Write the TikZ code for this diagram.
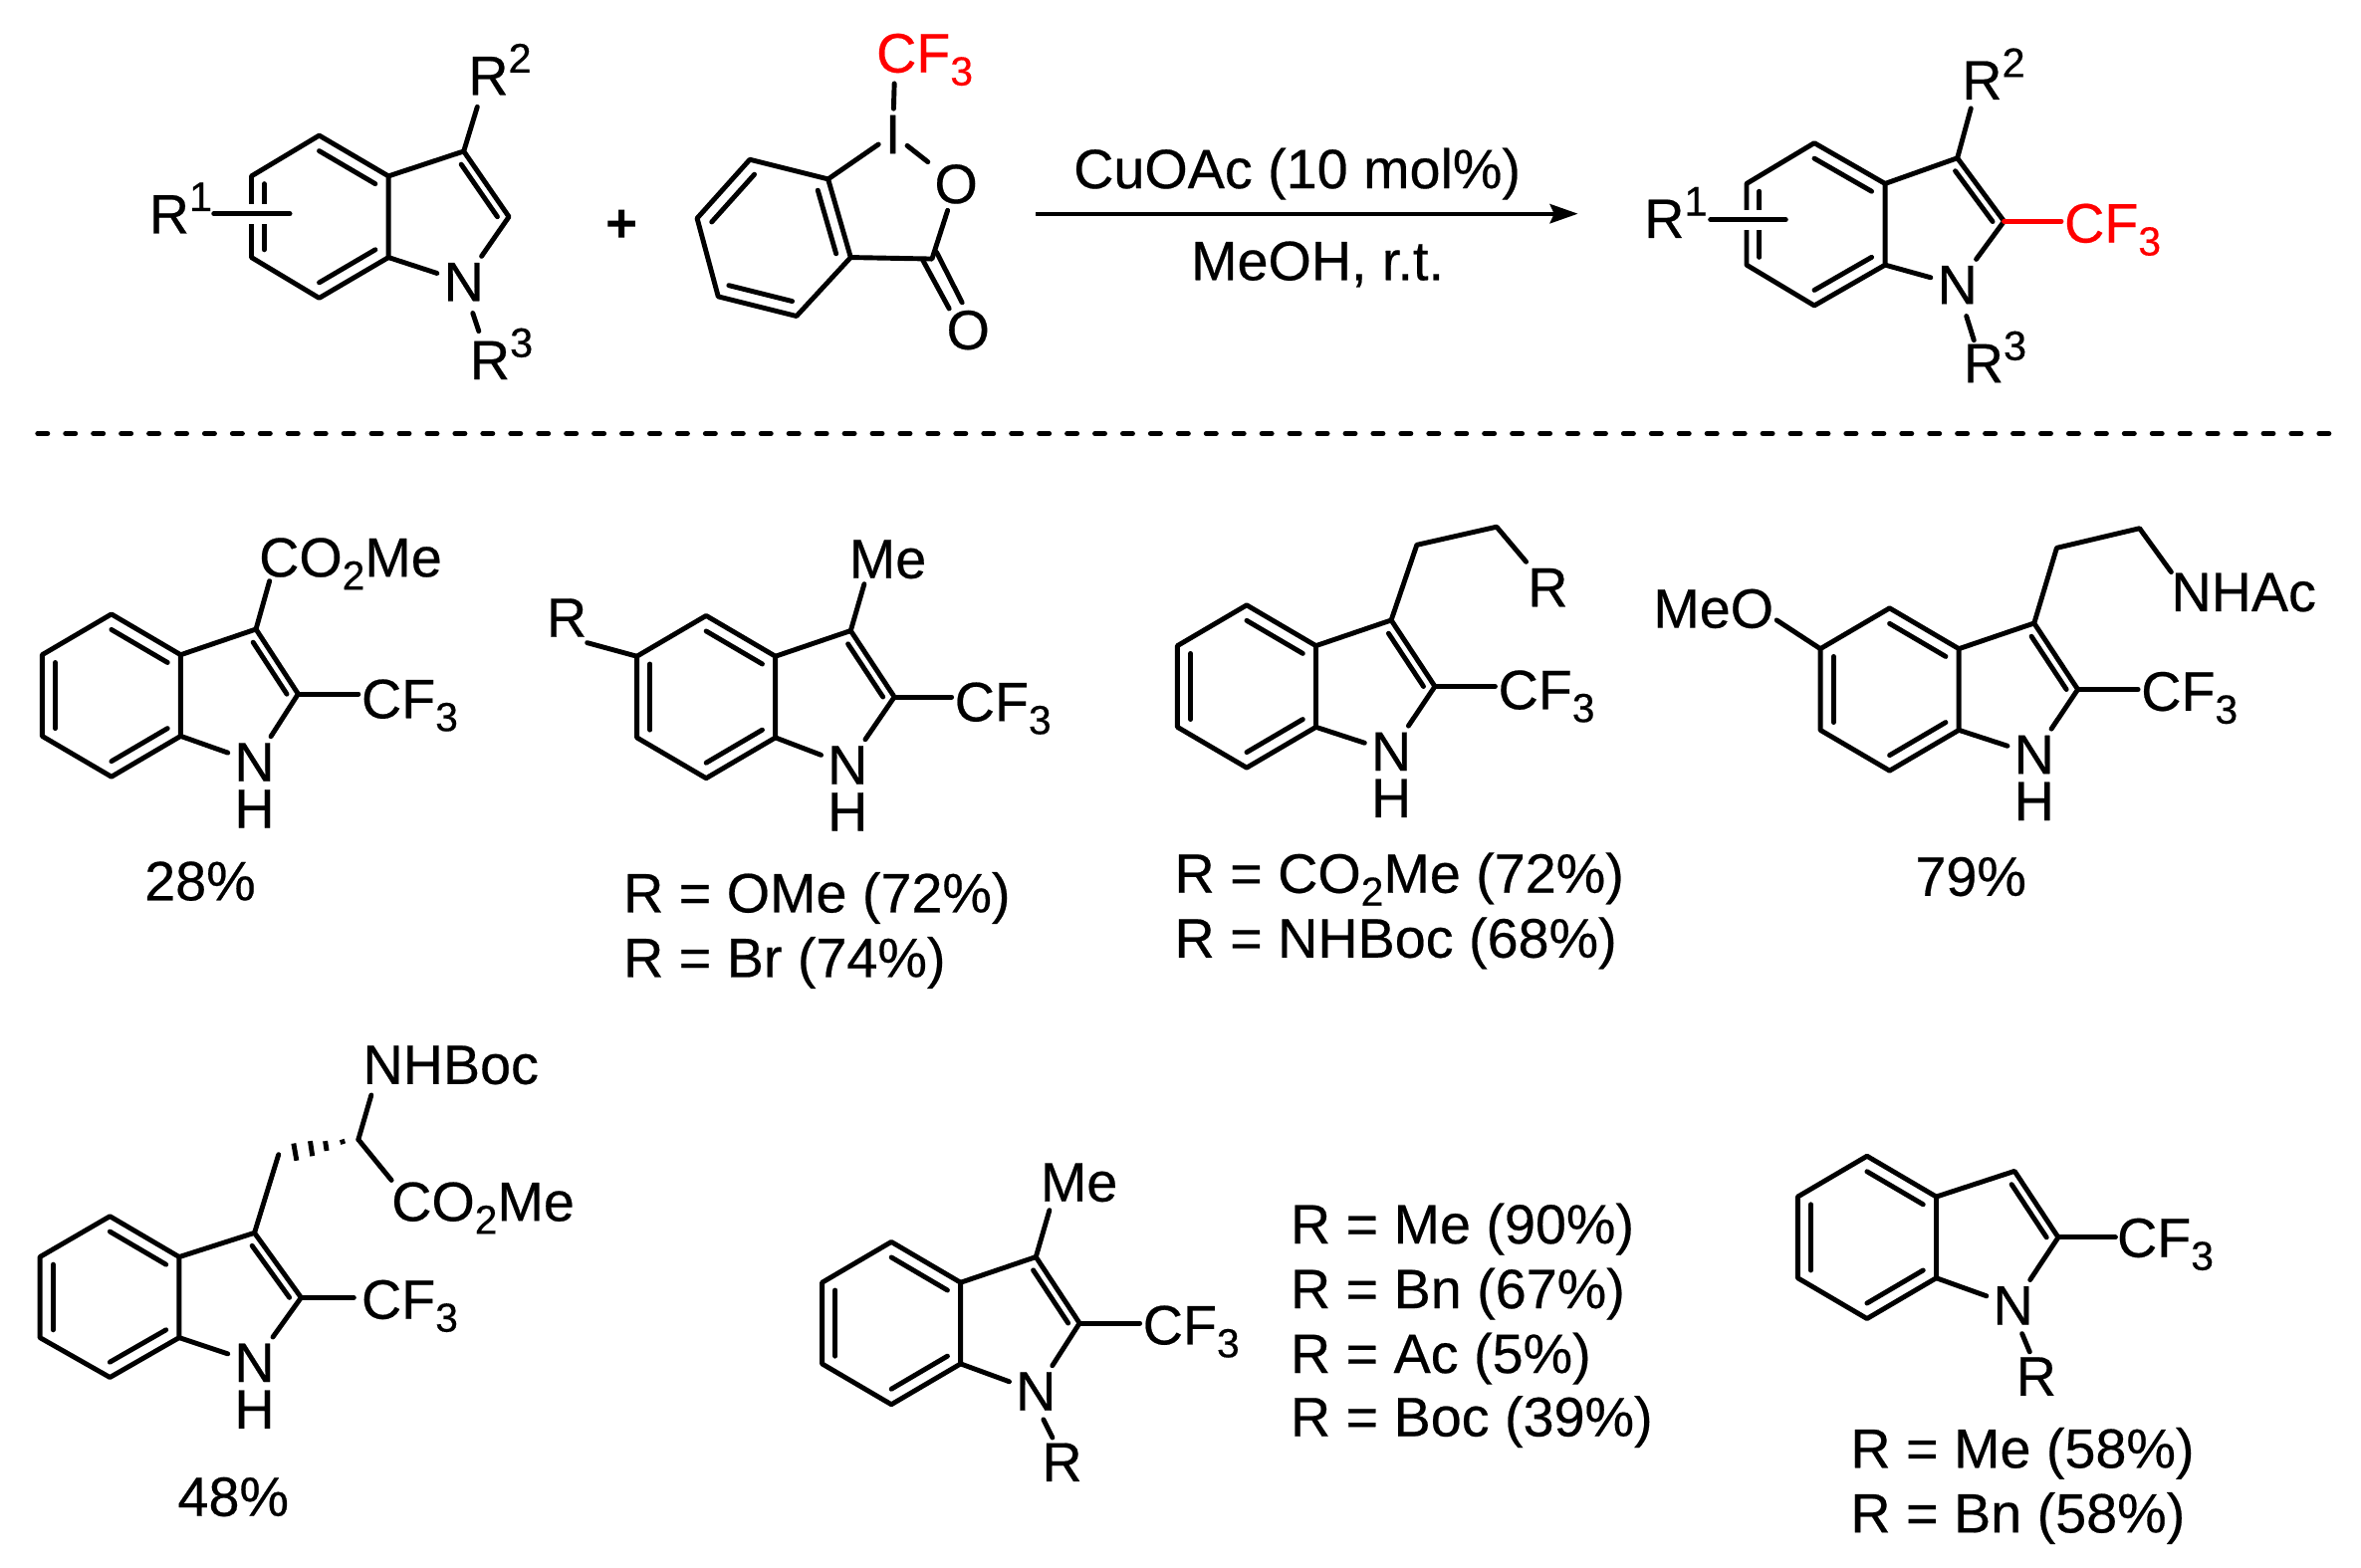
\documentclass[tikz,border=0pt]{standalone}
\usepackage{fontspec}
\setmainfont{Liberation Sans}
\newfontfamily\heavy{Liberation Sans}[FakeBold=0.4]
\usetikzlibrary{calc,arrows.meta}
\newcommand{\sbs}[1]{\raisebox{-3.7pt}{\fontsize{11.6}{11.6}\selectfont #1}}
\newcommand{\sps}[1]{\raisebox{6.4pt}{\fontsize{11.8}{11.8}\selectfont #1}}
\tikzset{
  bond/.style={line width=1.4pt,line cap=round,line join=round},
  redbond/.style={bond,draw=red},
  atom/.style={inner sep=1.7pt,yshift=0.3pt,font=\heavy\fontsize{15.85}{18}\selectfont},
  lab/.style={inner sep=0pt,anchor=base west,xshift=-0.6pt,yshift=0.4pt,font=\heavy\fontsize{15.85}{18}\selectfont},
  redlab/.style={lab,text=red},
  halo/.style={draw=white,line width=5.7pt}
}
% arguments: C4, C5, C6, C7, C7a, C3a, C3, C2, name of the N node
\newcommand{\indolecore}[9]{
  \coordinate (c4) at (#1); \coordinate (c5) at (#2); \coordinate (c6) at (#3);
  \coordinate (c7) at (#4); \coordinate (c7a) at (#5); \coordinate (c3a) at (#6);
  \coordinate (c3) at (#7); \coordinate (c2) at (#8);
  \coordinate (bc) at ($(c4)!.5!(c7)$);
  \coordinate (fm) at ($(c3a)!.5!(c7a)$);
  \coordinate (fc) at ($(fm)!.52!(c2)$);
  \draw[bond] (c4) -- (c5) -- (c6) -- (c7) -- (c7a) -- (c3a) -- cycle;
  \draw[bond] (c3a) -- (c3) -- (c2) -- (#9);
  \draw[bond] (c7a) -- (#9);
  \draw[bond] ($(c4)!.19!(bc)$) -- ($(c3a)!.19!(bc)$);
  \draw[bond] ($(c7)!.19!(bc)$) -- ($(c7a)!.19!(bc)$);
  \draw[bond] ($(c3)!.2!(fc)$) -- ($(c2)!.2!(fc)$);
  \coordinate (i5) at ($(c5)!.19!(bc)$); \coordinate (i6) at ($(c6)!.19!(bc)$);
  \draw[bond] (i5) -- (i6);
}
\newcommand{\bondto}[2]{\coordinate (tmpend) at (#2); \draw[bond] (#1) -- (tmpend);}
\begin{document}
\begin{tikzpicture}[x=0.01512cm,y=-0.01512cm]
\useasboundingbox (0,0) rectangle (1568.1,1041);
\fill[white] (0,0) rectangle (1568.1,1041);

% ---- starting indole
\node[atom] (nS) at (308,188) {N};
\indolecore{212,90}{167,117}{167,171}{212,198}{258,171}{258,117}{308,100.5}{338,144}{nS}
\coordinate (b1) at (142,142); \coordinate (b2) at (192.5,142);
\draw[halo,shorten <=6pt] (b1) -- (b2); \draw[bond] (b1) -- (b2);
\node[lab] (r2S) at (312,64) {R\sps{2}};
\bondto{c3}{317,71}
\node[lab] (r3S) at (313,253) {R\sps{3}};
\coordinate (a1) at (314,208); \coordinate (a2) at (318,220); \draw[bond] (a1) -- (a2);
\node[lab] (r1S) at (100,156) {R\sps{1}};

\node[atom,font=\fontsize{15.7}{18}\selectfont\bfseries] (plus) at (413,151) {+};

% ---- reagent
\node[atom] (iod) at (593,90) {I};
\node[atom] (oring) at (635,123) {O};
\node[atom] (ocarb) at (643,220) {O};
\node[redlab] (cfR) at (583,49) {CF\sbs{3}};
\coordinate (q1) at (498,106); \coordinate (q2) at (550,119); \coordinate (q3) at (565,171);
\coordinate (q4) at (529,210); \coordinate (q5) at (477,197); \coordinate (q6) at (463,145);
\coordinate (qc) at (514,158); \coordinate (qco) at (619,172);
\draw[bond] (q1) -- (q2) -- (q3) -- (q4) -- (q5) -- (q6) -- cycle;
\draw[bond] ($(q1)!.19!(qc)$) -- ($(q6)!.19!(qc)$);
\draw[bond] ($(q2)!.19!(qc)$) -- ($(q3)!.19!(qc)$);
\draw[bond] ($(q4)!.19!(qc)$) -- ($(q5)!.19!(qc)$);
\draw[bond] (q2) -- (iod);
\draw[bond] (iod) -- (oring);
\draw[bond] (oring) -- (qco) -- (q3);
\coordinate (d1) at (613,173); \coordinate (d2) at (630.4,205);
\coordinate (d3) at (622,167.5); \coordinate (d4) at (639,201);
\draw[bond] (d1) -- (d2); \draw[bond] (d3) -- (d4);
\coordinate (e1) at (594,55.5); \draw[bond] (e1) -- (iod);

% ---- arrow
\coordinate (ar1) at (688,142); \coordinate (ar2) at (1048,142);
\draw[line width=1.1pt,-{Stealth[length=8pt,width=5.5pt,inset=1.2pt]}] (ar1) -- (ar2);
\node[lab] (cond1) at (714,126) {CuOAc (10 mol\%)};
\node[lab] (cond2) at (792,187) {MeOH, r.t.};

% ---- product
\node[atom] (nP) at (1300,190) {N};
\indolecore{1205,95}{1160,122}{1160,176}{1205,203}{1252,176}{1252,122}{1300,105}{1331,147}{nP}
\coordinate (b1) at (1136,146); \coordinate (b2) at (1186,146);
\draw[halo,shorten <=6pt] (b1) -- (b2); \draw[bond] (b1) -- (b2);
\node[lab] (r2P) at (1304,67) {R\sps{2}};
\bondto{c3}{1309,72}
\node[lab] (r3P) at (1305,255) {R\sps{3}};
\coordinate (a1) at (1306,210); \coordinate (a2) at (1311,226); \draw[bond] (a1) -- (a2);
\node[lab] (r1P) at (1093,159) {R\sps{1}};
\node[redlab] (cfP) at (1372,162) {CF\sbs{3}};
\coordinate (e2) at (1369,147); \draw[redbond] (c2) -- (e2);

% ---- dashed separator
\coordinate (s1) at (25,288); \coordinate (s2) at (1552,288);
\draw[line width=1.4pt,line cap=round,dash pattern=on 2.85pt off 5.1pt] (s1) -- (s2);

% ---- A
\node[atom] (nA) at (169,507) {N};
\node[atom] (hA) at (169,538) {H};
\indolecore{74,408}{28,435}{28,489}{74,516}{120,489}{120,435}{170,418}{198,461}{nA}
\node[lab] (coA) at (173,384) {CO\sbs{2}Me};
\bondto{c3}{179,386}
\node[lab] (cfA) at (241,478) {CF\sbs{3}};
\bondto{c2}{238,461}
\node[lab] (yA) at (97,599) {28\%};

% ---- B
\node[atom] (nB) at (563,509) {N};
\node[atom] (hB) at (563,540) {H};
\indolecore{469,409}{423,436}{423,490}{469,517}{515,490}{515,436}{565,419}{594,463}{nB}
\node[lab] (meB) at (565,385) {Me};
\bondto{c3}{574,388}
\node[lab] (cfB) at (635,480) {CF\sbs{3}};
\bondto{c2}{632,463}
\node[lab] (rB) at (364,424) {R};
\bondto{c5}{390,427}
\node[lab] (tB1) at (415,607) {R = OMe (72\%)};
\node[lab] (tB2) at (415,650) {R = Br (74\%)};

% ---- C
\node[atom] (nC) at (924,500) {N};
\node[atom] (hC) at (924,531) {H};
\indolecore{828,402}{782,429}{782,483}{828,510}{874,483}{874,429}{924,412}{953,456}{nC}
\node[atom] (rC) at (1028,391) {R};
\coordinate (ch1) at (941,362); \coordinate (ch2) at (994,350);
\draw[bond] (c3) -- (ch1) -- (ch2) -- (rC);
\node[lab] (cfC) at (996,472) {CF\sbs{3}};
\bondto{c2}{993,456}
\node[lab] (tC1) at (781,594) {R = CO\sbs{2}Me (72\%)};
\node[lab] (tC2) at (781,637) {R = NHBoc (68\%)};

% ---- D
\node[atom] (nD) at (1351,502) {N};
\node[atom] (hD) at (1351,533) {H};
\indolecore{1255,404}{1209,431}{1209,485}{1255,512}{1301,485}{1301,431}{1351,414}{1380,458}{nD}
\node[lab] (moD) at (1099,418) {MeO};
\bondto{c5}{1180,412}
\coordinate (ch1) at (1366,364); \coordinate (ch2) at (1421,351); \coordinate (ch3) at (1442,380);
\draw[bond] (c3) -- (ch1) -- (ch2) -- (ch3);
\node[lab] (acD) at (1443,407) {NHAc};
\node[lab] (cfD) at (1423,473) {CF\sbs{3}};
\bondto{c2}{1420,458}
\node[lab] (yD) at (1273,596) {79\%};

% ---- E
\node[atom] (nE) at (169,906) {N};
\node[atom] (hE) at (169,937) {H};
\indolecore{73,808}{26.5,835}{26.5,888.6}{73,915}{119,888.6}{119,835}{169,819}{200,862}{nE}
\coordinate (ch) at (185,767); \coordinate (st) at (238,757);
\draw[bond] (c3) -- (ch);
\bondto{st}{246.6,727.5}
\bondto{st}{260,784}
\foreach \xa/\ya/\xb/\yb in {227/757/228/760,216/758/217/764.5,206/758/207.5/768,195/759.6/197/771}
  \draw[bond,line cap=butt] (\xa,\ya) -- (\xb,\yb);
\node[lab] (nbE) at (242,721) {NHBoc};
\node[lab] (coE) at (261,812) {CO\sbs{2}Me};
\node[lab] (cfE) at (241,877) {CF\sbs{3}};
\bondto{c2}{235,862}
\node[lab] (yE) at (119,1008) {48\%};

% ---- F
\node[atom] (nF) at (688,925) {N};
\indolecore{592,825}{546,852}{546,906}{592,933}{638,906}{638,852}{688,835}{717,879}{nF}
\node[lab] (meF) at (692,799) {Me};
\bondto{c3}{697,804}
\node[lab] (cfF) at (760,894) {CF\sbs{3}};
\bondto{c2}{757,879}
\node[lab] (rF) at (693,985) {R};
\coordinate (a1) at (693,943); \coordinate (a2) at (699,955); \draw[bond] (a1) -- (a2);
\node[lab] (tF1) at (858,827) {R = Me (90\%)};
\node[lab] (tF2) at (858,870) {R = Bn (67\%)};
\node[lab] (tF3) at (858,913) {R = Ac (5\%)};
\node[lab] (tF4) at (858,955) {R = Boc (39\%)};

% ---- G
\node[atom] (nG) at (1337,868) {N};
\indolecore{1240,768}{1194,795}{1194,849}{1240,876}{1286,849}{1286,795}{1338,778}{1367,822}{nG}
\node[lab] (cfG) at (1407,836) {CF\sbs{3}};
\bondto{c2}{1405,822}
\node[lab] (rG) at (1340,928) {R};
\coordinate (a1) at (1343,886); \coordinate (a2) at (1348,898); \draw[bond] (a1) -- (a2);
\node[lab] (tG1) at (1230,976) {R = Me (58\%)};
\node[lab] (tG2) at (1230,1019) {R = Bn (58\%)};
\end{tikzpicture}
\end{document}
